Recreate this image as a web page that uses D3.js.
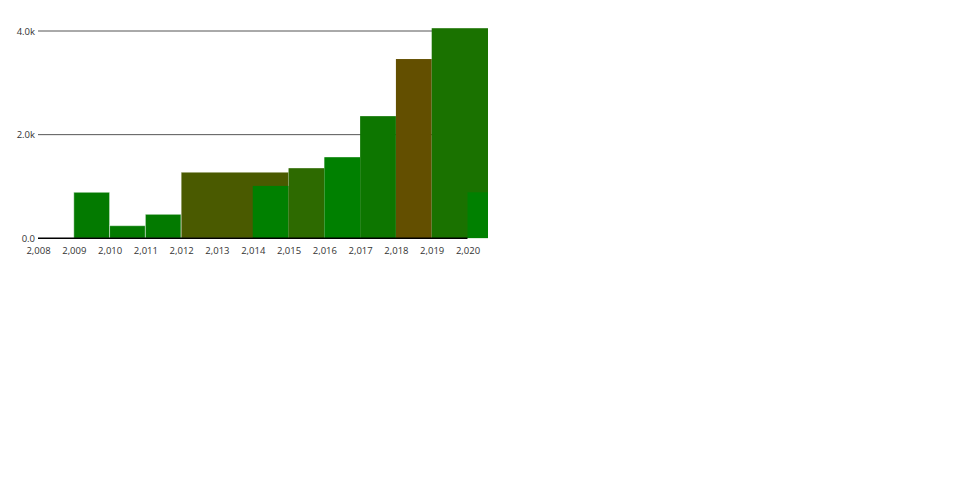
<!DOCTYPE html>
<html>
<head>
<meta charset="utf-8">
<script src="https://cdn.jsdelivr.net/npm/d3@7"></script>
<style>
  html, body { margin: 0; padding: 0; background: #fff; }
  svg { display: block; }
  text { font-family: "Open Sans", sans-serif; }
</style>
</head>
<body>
<svg id="chart" width="960" height="500"></svg>
<script>
// ---- data ----
const barStart  = [2009, 2010, 2011, 2012, 2014, 2015, 2016, 2017, 2018, 2019, 2020];
const barEnd    = [2010, 2011, 2012, 2015, 2015, 2016, 2017, 2018, 2019, 2021, 2021];
const barValue  = [888, 243, 463, 1275, 1011, 1353, 1565, 2357, 3459, 4054, 888];
const barColor  = ["#037a00", "#037a00", "#037a00", "#4a5a00", "#008000", "#2d6a00",
                   "#008000", "#0d7600", "#634f00", "#1a7200", "#008000"];
const barOutline = [true, true, true, true, false, false, false, false, false, false, false];
const xTicks    = [2008, 2009, 2010, 2011, 2012, 2013, 2014, 2015, 2016, 2017, 2018, 2019, 2020];
const yTicks    = [0, 2000, 4000];
const yTickLabels = ["0.0", "2.0k", "4.0k"];

// ---- layout ----
(function () {
const svg = d3.select("#chart");
const mLeft = 38, axisRight = 467.5, plotRight = 488, mBottom = 238.3;

const x = d3.scaleLinear().domain([2008, 2020]).range([mLeft, axisRight]);
const y = d3.scaleLinear().domain([0, 4000]).range([mBottom, 31]);

svg.append("defs").append("clipPath").attr("id", "plotclip")
  .append("rect").attr("x", mLeft).attr("y", 0).attr("width", plotRight - mLeft).attr("height", mBottom);

// gridlines
svg.append("g").selectAll("line").data(yTicks.filter(d => d > 0)).join("line")
  .attr("x1", mLeft).attr("x2", plotRight)
  .attr("y1", d => y(d)).attr("y2", d => y(d))
  .attr("stroke", "#555").attr("stroke-width", 1);

// bars
const data = barStart.map((s, i) => ({ s, e: barEnd[i], v: barValue[i], c: barColor[i], o: barOutline[i] }));
svg.append("g").attr("clip-path", "url(#plotclip)")
  .selectAll("rect").data(data).join("rect")
  .attr("x", d => x(d.s))
  .attr("width", d => x(d.e) - x(d.s))
  .attr("y", d => y(d.v))
  .attr("height", d => y(0) - y(d.v))
  .attr("fill", d => d.c)
  .attr("stroke", d => d.o ? "rgba(255,255,255,0.45)" : "none")
  .attr("stroke-width", 1);

// baseline
svg.append("line")
  .attr("x1", mLeft).attr("x2", axisRight)
  .attr("y1", y(0)).attr("y2", y(0))
  .attr("stroke", "#000").attr("stroke-width", 1.5);

// y labels
const yAxis = d3.axisLeft(y).tickValues(yTicks)
  .tickFormat((d, i) => yTickLabels[i]).tickSize(0).tickPadding(3);
const gy = svg.append("g").attr("transform", `translate(${mLeft},0)`).call(yAxis);
gy.select(".domain").remove();
gy.selectAll("text").attr("font-size", 9.5).attr("fill", "#333").attr("font-family", "'Open Sans', sans-serif");

// x labels
const xAxis = d3.axisBottom(x).tickValues(xTicks).tickFormat(d3.format(",")).tickSize(0).tickPadding(8.5);
const gx = svg.append("g").attr("transform", `translate(0,${mBottom})`).call(xAxis);
gx.select(".domain").remove();
gx.selectAll("text").attr("font-size", 9.5).attr("fill", "#333").attr("font-family", "'Open Sans', sans-serif");
})();
</script>
</body>
</html>
